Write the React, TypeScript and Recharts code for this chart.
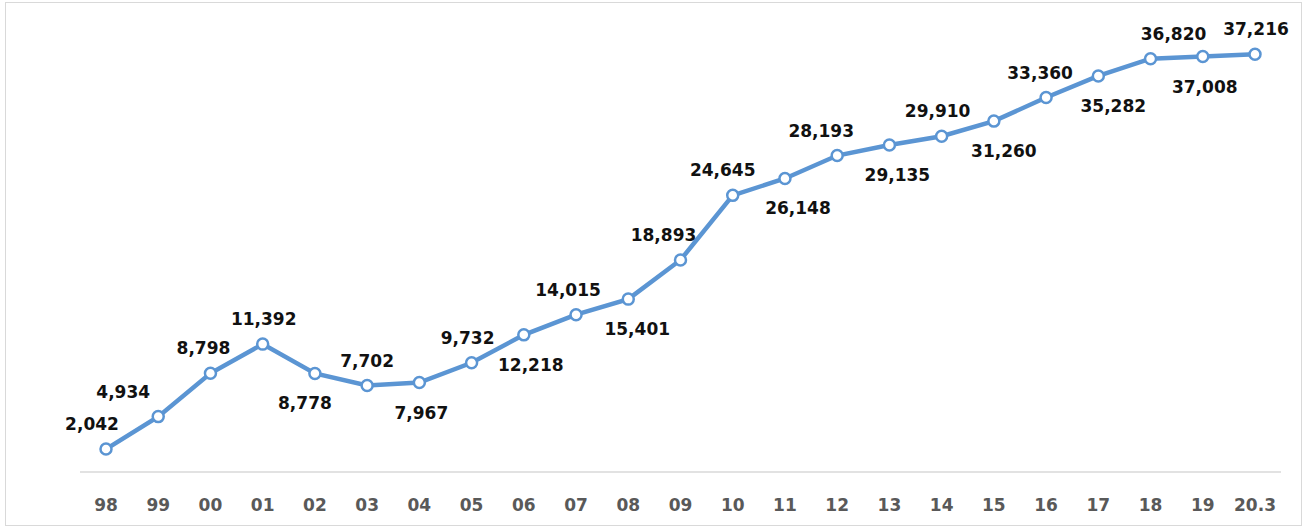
import React from 'react';
import {LineChart, Line, XAxis, YAxis, LabelList} from 'recharts';

const years = ['98', '99', '00', '01', '02', '03', '04', '05', '06', '07', '08', '09', '10', '11', '12', '13', '14', '15', '16', '17', '18', '19', '20.3'];
const counts = [2042, 4934, 8798, 11392, 8778, 7702, 7967, 9732, 12218, 14015, 15401, 18893, 24645, 26148, 28193, 29135, 29910, 31260, 33360, 35282, 36820, 37008, 37216];

// label placement per point: 1 = above, -1 = below
const labelSide = [1, 1, 1, 1, -1, 1, -1, 1, -1, 1, -1, 1, 1, -1, 1, -1, 1, -1, 1, -1, 1, -1, 1];
const labelShift = [-14, -35, -7, 1, -10, 0, 2, -4, 7, -8, 9, -17, -10, 13, -16, 8, -4, 10, -6, 15, 23, 2, 1];

const data = years.map((year, i) => ({year, count: counts[i]}));

const BLUE = '#5b95d3';
const FONT = '"DejaVu Sans", sans-serif';

const ValueLabel = (props: any) => {
    const {x, y, index, value} = props;
    const above = labelSide[index] === 1;
    return (
        <text
            x={x + labelShift[index]}
            y={above ? y - 19 : y + 36}
            textAnchor="middle"
            fontFamily={FONT}
            fontWeight="bold"
            fontSize={17}
            fill="#111"
        >
            {Number(value).toLocaleString('en-US')}
        </text>
    );
};

const YearTick = (props: any) => {
    const {x, y, payload} = props;
    return (
        <text x={x} y={y + 31} textAnchor="middle" fontFamily={FONT} fontWeight="bold" fontSize={17} fill="#595959">
            {payload.value}
        </text>
    );
};

export default function App() {
    return (
        <div style={{position: 'relative', width: 1308, height: 529, background: '#fff'}}>
            <style>{'body{margin:0}'}</style>
            <div style={{
                position: 'absolute', left: 5, top: 2, width: 1297, height: 524,
                border: '1px solid #d9d9d9', boxSizing: 'border-box'
            }}/>
            <LineChart width={1308} height={529} data={data} margin={{top: 23, right: 27, bottom: 0, left: 80}}>
                <XAxis
                    dataKey="year"
                    height={57}
                    tickLine={false}
                    axisLine={{stroke: '#d9d9d9', strokeWidth: 1.5}}
                    tick={<YearTick/>}
                    interval={0}
                    padding={{left: 26, right: 26}}
                />
                <YAxis hide domain={[0, 40000]}/>
                <Line
                    type="linear"
                    dataKey="count"
                    stroke={BLUE}
                    strokeWidth={4.5}
                    dot={{r: 5.5, fill: '#fff', stroke: BLUE, strokeWidth: 2.5}}
                    isAnimationActive={false}
                >
                    <LabelList dataKey="count" content={<ValueLabel/>}/>
                </Line>
            </LineChart>
        </div>
    );
}
